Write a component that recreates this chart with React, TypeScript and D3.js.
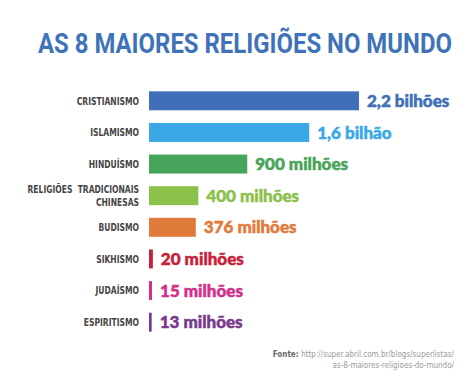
import React, { useLayoutEffect, useRef, useState } from 'react';
import * as d3 from 'd3';

const categories = [
  ['CRISTIANISMO'],
  ['ISLAMISMO'],
  ['HINDUÍSMO'],
  ['RELIGIÕES  TRADICIONAIS', 'CHINESAS'],
  ['BUDISMO'],
  ['SIKHISMO'],
  ['JUDAÍSMO'],
  ['ESPIRITISMO'],
];
// followers, in millions
const followers = [2200, 1600, 900, 400, 376, 20, 15, 13];
const valueLabels = ['2,2 bilhões', '1,6 bilhão', '900 milhões', '400 milhões', '376 milhões', '20 milhões', '15 milhões', '13 milhões'];
const colors = ['#3e6fb8', '#3aa8e6', '#46a55a', '#8cc14b', '#e07a3b', '#c71f3a', '#d3308a', '#7a3a8c'];

const W = 474, H = 386;
const x0 = 149;
const narrow = '"DejaVu Sans Condensed", sans-serif';
const title = 'AS 8 MAIORES RELIGIÕES NO MUNDO';

export default function App() {
  const titleRef = useRef<SVGTextElement>(null);
  const [titleScale, setTitleScale] = useState(1);

  useLayoutEffect(() => {
    if (!titleRef.current) return;
    const len = titleRef.current.getComputedTextLength();
    if (len > 0) setTitleScale(414 / len);
  }, []);

  const keys = categories.map((c) => c.join(' '));

  const y = d3.scaleBand<string>()
    .domain(keys)
    .range([85, 338])
    .paddingInner(0.4)
    .paddingOuter(0.2);

  // the original graphic isn't drawn to a linear scale
  const x = d3.scalePow().exponent(0.85)
    .domain([0, 2200])
    .range([0, 210]);

  return (
    <div style={{ position: 'absolute', left: 0, top: 0 }}>
      <svg width={W} height={H} style={{ display: 'block', background: '#fff' }}>
        <g transform={`translate(38,53) scale(${titleScale},1)`}>
          <text ref={titleRef} x={0} y={0} fill="#3f73b9" fontFamily="Roboto, sans-serif"
            fontWeight={700} fontSize={27}>
            {title}
          </text>
        </g>

        {keys.map((k, i) => {
          const cy = y(k)! + y.bandwidth() / 2;
          const w = Math.max(2, x(followers[i]));
          const lines = categories[i];
          return (
            <g key={k}>
              <g transform={`translate(139,0) scale(0.82,1)`}>
                <text x={0} y={cy} textAnchor="end" fill="#454545" fontFamily={narrow}
                  fontWeight="bold" fontSize={10.3} style={{ whiteSpace: 'pre' }}>
                  {lines.map((l, j) => (
                    <tspan key={j} x={0} dy={j === 0 ? (lines.length === 1 ? '0.36em' : '-0.28em') : '1.25em'}>{l}</tspan>
                  ))}
                </text>
              </g>
              <rect x={x0} y={y(k)} width={w} height={y.bandwidth()} fill={colors[i]} />
              <text x={x0 + w + 8} y={cy} dy="0.36em" fill={colors[i]} stroke={colors[i]} strokeWidth={0.5}
                fontFamily="Lato, sans-serif" fontWeight={900} fontSize={17}>
                {valueLabels[i]}
              </text>
            </g>
          );
        })}

        <text x={454} y={357} textAnchor="end" fontFamily={narrow} fontSize={8} fill="#9a9a9a">
          <tspan fontWeight="bold" fill="#6a6a6a">Fonte: </tspan>http://super.abril.com.br/blogs/superlistas/
        </text>
        <text x={454} y={368} textAnchor="end" fontFamily={narrow} fontSize={8} fill="#9a9a9a">
          as-8-maiores-religioes-do-mundo/
        </text>
      </svg>
    </div>
  );
}
